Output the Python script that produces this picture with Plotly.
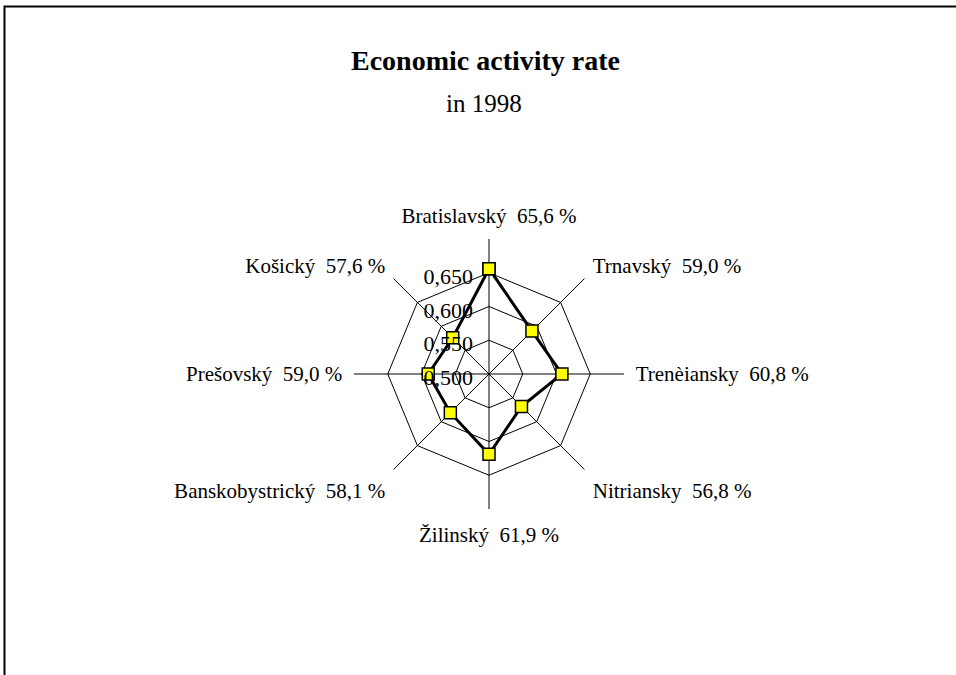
import plotly.graph_objects as go

regions = ["Bratislavský", "Trnavský", "Trenèiansky", "Nitriansky",
           "Žilinský", "Banskobystrický", "Prešovský", "Košický"]
rates = [0.656, 0.590, 0.608, 0.568, 0.619, 0.581, 0.590, 0.576]
rate_labels = ["65,6 %", "59,0 %", "60,8 %", "56,8 %", "61,9 %", "58,1 %", "59,0 %", "57,6 %"]
radial_ticks = [0.50, 0.55, 0.60, 0.65]

ticktext = [f"{r}  {p}" for r, p in zip(regions, rate_labels)]

FONT = "Liberation Serif"
W, H = 956, 675
cx, cy, R = 489, 374, 135

fig = go.Figure()
fig.add_trace(go.Scatterpolar(
    r=rates + rates[:1],
    theta=regions + regions[:1],
    mode="lines+markers",
    line=dict(color="black", width=3),
    marker=dict(symbol="square", size=12, color="#FFFF00",
                line=dict(color="black", width=1.5)),
    showlegend=False,
    hoverinfo="skip",
))

fig.update_layout(
    width=W, height=H,
    margin=dict(l=0, r=0, t=0, b=0),
    paper_bgcolor="white",
    plot_bgcolor="white",
    separators=", ",
    font=dict(family=FONT, color="black", size=21),
    polar=dict(
        domain=dict(x=[(cx - R) / W, (cx + R) / W],
                    y=[1 - (cy + R) / H, 1 - (cy - R) / H]),
        bgcolor="white",
        gridshape="linear",
        angularaxis=dict(
            direction="clockwise", rotation=90,
            categoryorder="array", categoryarray=regions,
            tickvals=regions, ticktext=ticktext,
            showline=False, ticks="outside", ticklen=7,
            tickcolor="rgba(0,0,0,0)",
            gridcolor="black", gridwidth=1,
            tickfont=dict(family=FONT, size=21, color="black"),
        ),
        radialaxis=dict(
            range=[0.5, 0.7], angle=90,
            tickvals=radial_ticks, tickformat=".3f",
            showline=False, ticks="",
            gridcolor="black", gridwidth=1,
            tickfont=dict(family=FONT, size=22, color="black"),
            side="counterclockwise",
        ),
    ),
    annotations=[
        dict(text="<b>Economic activity rate</b>", x=485 / W, y=1 - 60 / H,
             xref="paper", yref="paper", showarrow=False,
             xanchor="center", yanchor="middle",
             font=dict(family=FONT, size=28, color="black")),
        dict(text="in 1998", x=484 / W, y=1 - 103 / H,
             xref="paper", yref="paper", showarrow=False,
             xanchor="center", yanchor="middle",
             font=dict(family=FONT, size=25, color="black")),
    ],
    shapes=[
        dict(type="rect", xref="paper", yref="paper",
             x0=4.5 / W, x1=1.05, y0=-0.05, y1=1 - 6.5 / H,
             line=dict(color="black", width=2), fillcolor="rgba(0,0,0,0)"),
    ],
)

fig.write_html("out.html",
               config={"displayModeBar": False},
               post_script="document.body.style.margin='0px';document.body.style.padding='0px';")
